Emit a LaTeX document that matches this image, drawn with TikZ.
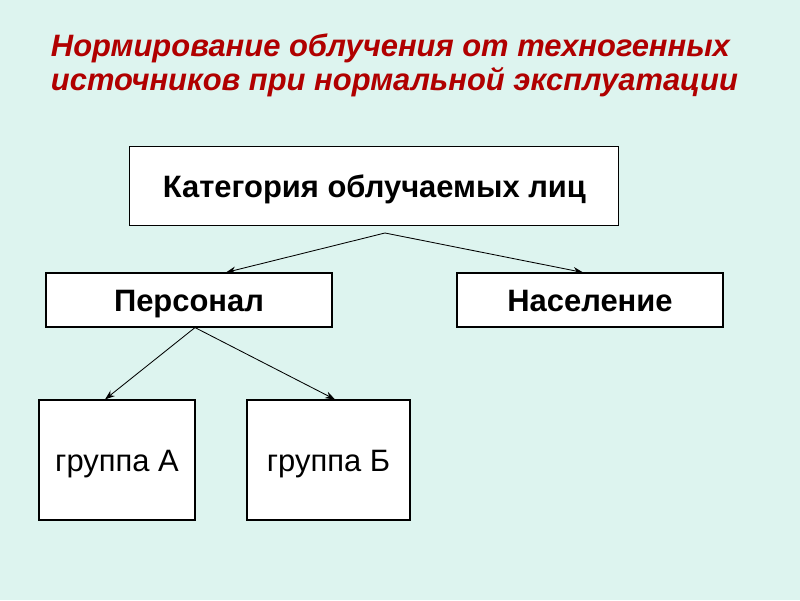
\documentclass[tikz,border=0pt]{standalone}
\usepackage{fontspec}
\setmainfont{Liberation Sans}
\usetikzlibrary{arrows.meta}
\definecolor{slidebg}{RGB}{221,244,239}
\definecolor{titlered}{RGB}{176,0,0}
\tikzset{
  box/.style={draw=black, fill=white, line width=0.8pt, inner sep=0pt, text height=16.5pt, text depth=0pt},
  arr/.style={line width=0.6pt, -{Stealth[length=7pt,width=5pt]}}
}
\begin{document}
\begin{tikzpicture}
    
      % Background
      \fill[slidebg] (0,0) rectangle (20,15);
      \useasboundingbox (0,0) rectangle (20,15);

      % Title
      \node[anchor=west, align=left, text=titlered, font=\fontsize{22}{24.5}\selectfont\bfseries\itshape] (title) at (1.15,13.37) {Нормирование облучения от техногенных\\источников при нормальной эксплуатации};

      % Boxes
      \node[box, minimum width=12.225cm, minimum height=1.975cm, font=\fontsize{22}{24}\selectfont\bfseries] (cat) at (9.36,10.34) {Категория облучаемых лиц};
      \node[box, minimum width=7.15cm, minimum height=1.35cm, font=\fontsize{22}{24}\selectfont\bfseries] (pers) at (4.725,7.5) {Персонал};
      \node[box, minimum width=6.65cm, minimum height=1.35cm, font=\fontsize{22}{24}\selectfont\bfseries] (pop) at (14.75,7.5) {Население};
      \node[box, minimum width=3.9cm, minimum height=3cm, font=\fontsize{22}{24}\selectfont] (grA) at (2.925,3.5) {группа А};
      \node[box, minimum width=4.075cm, minimum height=3cm, font=\fontsize{22}{24}\selectfont] (grB) at (8.2125,3.5) {группа Б};

      % Connectors
      \coordinate (fork) at (9.625,9.175);
      \draw[arr] (fork) -- ([xshift=0.925cm]pers.north);
      \draw[arr] (fork) -- ([xshift=-0.175cm]pop.north);
      \draw[arr] ([xshift=0.15cm]pers.south) -- ([xshift=-0.3cm]grA.north);
      \draw[arr] ([xshift=0.15cm]pers.south) -- ([xshift=0.1625cm]grB.north);
    
    \end{tikzpicture}
\end{document}
